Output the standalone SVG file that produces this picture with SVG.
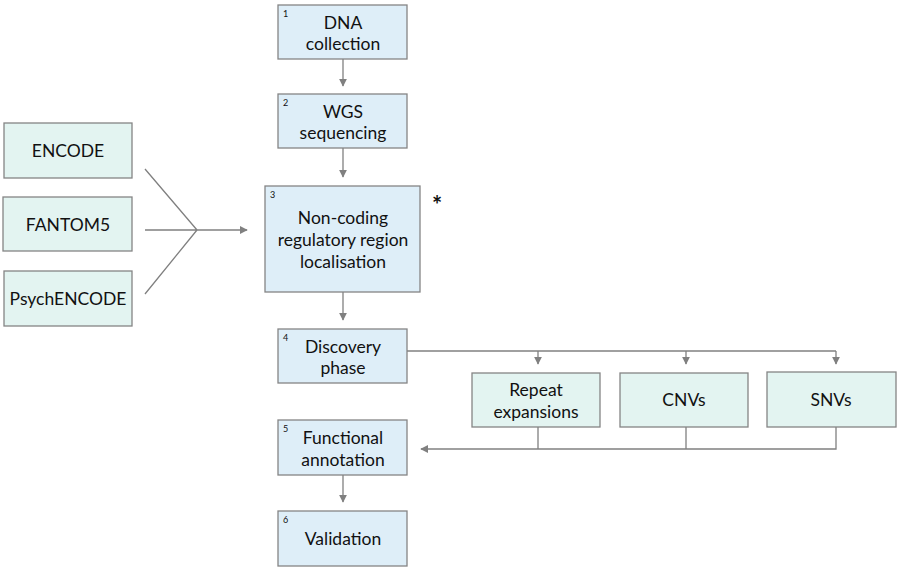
<svg xmlns="http://www.w3.org/2000/svg" width="900" height="570" viewBox="0 0 900 570">
<style>
.m{fill:#deeef8;stroke:#858585;stroke-width:1.3}
.s{fill:#e3f4f1;stroke:#858585;stroke-width:1.3}
text{font-family:Lato,"Open Sans",sans-serif;fill:#111}
.t{font-size:17.5px;text-anchor:middle}
.n{font-size:9px}
.c{fill:none;stroke:#808080;stroke-width:1.3}
</style>
<defs>
<marker id="a" viewBox="0 0 10 10" refX="9" refY="5" markerWidth="8" markerHeight="8" markerUnits="userSpaceOnUse" orient="auto">
<path d="M0,0L10,5L0,10z" fill="#808080"/>
</marker>
</defs>
<rect width="900" height="570" fill="#fff"/>
<g id="connectors">
<path class="c" d="M343,59V86" marker-end="url(#a)"/>
<path class="c" d="M343,148V177" marker-end="url(#a)"/>
<path class="c" d="M343,292V320" marker-end="url(#a)"/>
<path class="c" d="M343,475V502" marker-end="url(#a)"/>
<path class="c" d="M145,169L197,230M145,230H197M145,294L197,230"/>
<path class="c" d="M197,230H247" marker-end="url(#a)"/>
<path class="c" d="M407,351H836"/>
<path class="c" d="M538,351V364" marker-end="url(#a)"/>
<path class="c" d="M686,351V364" marker-end="url(#a)"/>
<path class="c" d="M836,351V364" marker-end="url(#a)"/>
<path class="c" d="M538,427V449M686,427V449M836,427V449H600"/>
<path class="c" d="M600,449H421" marker-end="url(#a)"/>
</g>
<g id="n1"><rect class="m" x="278" y="5" width="129" height="54"/><text class="n" x="283" y="17">1</text><text class="t" x="343" y="29">DNA</text><text class="t" x="343" y="50">collection</text></g>
<g id="n2"><rect class="m" x="278" y="94" width="129" height="54"/><text class="n" x="283" y="106">2</text><text class="t" x="343" y="118">WGS</text><text class="t" x="343" y="139">sequencing</text></g>
<g id="n3"><rect class="m" x="265" y="186" width="155" height="106"/><text class="n" x="270" y="198">3</text><text class="t" x="343" y="224">Non-coding</text><text class="t" x="343" y="246">regulatory region</text><text class="t" x="343" y="268">localisation</text></g>
<text x="437" y="214" style="font-size:24px;font-weight:bold;text-anchor:middle">*</text>
<g id="n4"><rect class="m" x="278" y="329" width="129" height="54"/><text class="n" x="283" y="341">4</text><text class="t" x="343" y="353">Discovery</text><text class="t" x="343" y="374">phase</text></g>
<g id="n5"><rect class="m" x="278" y="420" width="129" height="55"/><text class="n" x="283" y="432">5</text><text class="t" x="343" y="444">Functional</text><text class="t" x="343" y="466">annotation</text></g>
<g id="n6"><rect class="m" x="278" y="511" width="129" height="55"/><text class="n" x="283" y="523">6</text><text class="t" x="343" y="545">Validation</text></g>
<g id="encode"><rect class="s" x="4" y="123" width="128" height="55"/><text class="t" x="68" y="157">ENCODE</text></g>
<g id="fantom"><rect class="s" x="3" y="197" width="129" height="54"/><text class="t" x="68" y="231">FANTOM5</text></g>
<g id="psych"><rect class="s" x="4" y="271" width="128" height="55"/><text class="t" x="68" y="305">PsychENCODE</text></g>
<g id="repeat"><rect class="s" x="472" y="373" width="128" height="54"/><text class="t" x="536" y="396">Repeat</text><text class="t" x="536" y="418">expansions</text></g>
<g id="cnv"><rect class="s" x="620" y="373" width="128" height="54"/><text class="t" x="684" y="406">CNVs</text></g>
<g id="snv"><rect class="s" x="767" y="372" width="129" height="55"/><text class="t" x="831" y="406">SNVs</text></g>
</svg>
